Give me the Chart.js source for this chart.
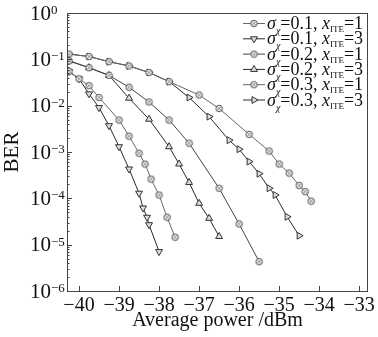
<!DOCTYPE html>
<html><head><meta charset="utf-8">
<script src="https://cdn.jsdelivr.net/npm/chart.js@4/dist/chart.umd.min.js"></script>
<style>html,body{margin:0;padding:0;background:#fff}#wrap{width:378px;height:337px}</style>
</head><body><div id="wrap"><canvas id="c" width="378" height="337"></canvas></div>
<script>
// ---- data ----
const xTicks = [-40,-39,-38,-37,-36,-35,-34,-33];
const yExponents = [0,-1,-2,-3,-4,-5,-6];
const sigmaVals = ['0.1','0.1','0.2','0.2','0.3','0.3'];
const iteVals = ['1','3','1','3','1','3'];

const s01x1_x = [-40.25,-40,-39.75,-39.5,-39.0,-38.75,-38.5,-38.35,-38.2,-38.0,-37.8,-37.6];
const s01x1_y = [0.055,0.038,0.027,0.015,0.0049,0.0022,9.4e-4,5.5e-4,2.6e-4,1.18e-4,3.9e-5,1.45e-5];
const s01x3_x = [-40.25,-40,-39.75,-39.5,-39.25,-39.0,-38.75,-38.5,-38.4,-38.3,-38.25,-38.0];
const s01x3_y = [0.055,0.038,0.018,0.0091,0.0037,0.0013,4.3e-4,1.29e-4,6.2e-5,3.9e-5,2.7e-5,7.1e-6];
const s02x1_x = [-40.25,-39.75,-39.25,-38.75,-38.25,-37.75,-37.25,-36.5,-36.0,-35.5];
const s02x1_y = [0.093,0.066,0.045,0.025,0.012,0.0049,0.00155,1.65e-4,2.8e-5,4.3e-6];
const s02x3_x = [-40.25,-39.75,-39.25,-38.75,-38.25,-37.75,-37.5,-37.25,-37.0,-36.75,-36.5];
const s02x3_y = [0.093,0.066,0.045,0.0145,0.0051,0.0013,5.5e-4,2.2e-4,7.8e-5,3.7e-5,1.5e-5];
const s03x1_x = [-40.25,-39.75,-39.25,-38.75,-38.25,-37.75,-37.0,-36.5,-35.75,-35.25,-35.0,-34.75,-34.5,-34.35,-34.2];
const s03x1_y = [0.13,0.115,0.089,0.072,0.052,0.033,0.017,0.0087,0.0024,0.00105,5.5e-4,3.5e-4,1.9e-4,1.4e-4,8.7e-5];
const s03x3_x = [-40.25,-39.75,-39.25,-38.75,-38.25,-37.75,-37.25,-36.75,-36.25,-36.0,-35.75,-35.5,-35.25,-35.1,-34.8,-34.5];
const s03x3_y = [0.13,0.115,0.089,0.072,0.052,0.033,0.015,0.0058,0.0018,0.00115,6.2e-4,3.4e-4,1.65e-4,1.18e-4,4e-5,1.56e-5];

// ---- styling ----
const SERIF = '"Liberation Serif","DejaVu Serif",serif';
function circleImg(){
  const c=document.createElement('canvas'); c.width=c.height=9;
  const g=c.getContext('2d');
  g.fillStyle='#f4f4f4'; g.strokeStyle='#444'; g.lineWidth=1;
  g.beginPath(); g.arc(4.5,4.5,3.2,0,Math.PI*2); g.fill(); g.stroke();
  g.lineWidth=0.7; g.beginPath(); g.moveTo(3.2,3.2); g.lineTo(5.8,5.8); g.moveTo(5.8,3.2); g.lineTo(3.2,5.8); g.stroke();
  return c;
}
const circ = circleImg();
const pts = (xs, ys) => xs.map((x,i)=>({x:x,y:ys[i]}));
function ds(xs, ys, style, rot, lineCol){
  return {data: pts(xs,ys), borderColor: lineCol, borderWidth: 1, pointStyle: style, rotation: rot,
    pointRadius: style==='triangle'?4:4.5, pointBorderColor:'#333', pointBackgroundColor:'#ddd', pointBorderWidth:1,
    showLine:true, tension:0, fill:false};
}
const datasets = [
  ds(s01x1_x, s01x1_y, circ, 0, '#666'),
  ds(s01x3_x, s01x3_y, 'triangle', 180, '#2a2a2a'),
  ds(s02x1_x, s02x1_y, circ, 0, '#444'),
  ds(s02x3_x, s02x3_y, 'triangle', 0, '#2a2a2a'),
  ds(s03x1_x, s03x1_y, circ, 0, '#666'),
  ds(s03x3_x, s03x3_y, 'triangle', 90, '#2a2a2a'),
];

const deco = {
  id:'deco',
  afterDraw(chart){
    const ctx=chart.ctx, a=chart.chartArea, xs=chart.scales.x, ys=chart.scales.y;
    ctx.save();
    ctx.strokeStyle='#444'; ctx.lineWidth=1;
    ctx.strokeRect(Math.round(a.left)+0.5, Math.round(a.top)+0.5, Math.round(a.right-a.left)-1, Math.round(a.bottom-a.top));
    ctx.beginPath();
    xTicks.forEach(v=>{ const x=Math.round(xs.getPixelForValue(v))+0.5; ctx.moveTo(x,a.bottom); ctx.lineTo(x,a.bottom-5); });
    yExponents.forEach(e=>{ const y=Math.round(ys.getPixelForValue(Math.pow(10,e)))+0.5; ctx.moveTo(a.left,y); ctx.lineTo(a.left+5,y);
      if(e<0){ for(let m=2;m<=9;m++){ const yy=Math.round(ys.getPixelForValue(m*Math.pow(10,e)))+0.5; ctx.moveTo(a.left,yy); ctx.lineTo(a.left+2.5,yy);} } });
    ctx.stroke();
    // y tick labels 10^e
    ctx.fillStyle='#111';
    yExponents.forEach(e=>{
      const y=ys.getPixelForValue(Math.pow(10,e));
      ctx.font='21px '+SERIF; ctx.textBaseline='middle'; ctx.textAlign='left';
      ctx.fillText('10', 30, y+1);
      const w=ctx.measureText('10').width;
      ctx.font='13px '+SERIF; ctx.textBaseline='alphabetic';
      ctx.fillText(e===0?'0':'\u2212'+Math.abs(e), 30+w, y+1);
    });
    // legend
    for(let i=0;i<6;i++){
      const cy=23.5+15.3*i;
      const d=chart.data.datasets[i];
      ctx.strokeStyle=d.borderColor; ctx.lineWidth=1;
      ctx.beginPath(); ctx.moveTo(243,cy); ctx.lineTo(265,cy); ctx.stroke();
      ctx.strokeStyle='#333'; ctx.fillStyle='#ddd';
      Chart.helpers.drawPoint(ctx,{pointStyle:d.pointStyle,rotation:d.rotation,radius:d.pointRadius,borderWidth:1},254,cy);
      // text
      ctx.fillStyle='#111';
      ctx.textBaseline='alphabetic'; ctx.textAlign='left';
      const base=cy+5.5;
      const parts=[
        {t:'\u03c3', f:'italic 18px '+SERIF},
        {t:'\u03c7', f:'italic 10px '+SERIF, dy:5},
        {t:'=0.'+sigmaVals[i].slice(2)+', ', f:'18px '+SERIF},
        {t:'x', f:'italic 18px '+SERIF},
        {t:'ITE', f:'9px '+SERIF, dy:3},
        {t:'='+iteVals[i], f:'18px '+SERIF}
      ];
      let x=267;
      parts.forEach(p=>{ ctx.font=p.f; ctx.fillText(p.t,x,base+(p.dy||0)); x+=ctx.measureText(p.t).width; });
    }
    ctx.restore();
  }
};

Chart.defaults.font.family = SERIF;
new Chart(document.getElementById('c'), {
  type:'scatter',
  data:{datasets},
  options:{
    responsive:false, animation:false, devicePixelRatio:1,
    layout:{padding:{top:13,right:6,left:0,bottom:0}},
    plugins:{legend:{display:false}, tooltip:{enabled:false}},
    scales:{
      x:{type:'linear', min:-40.3, max:-32.78,
        grid:{display:false, drawTicks:false}, border:{display:false},
        ticks:{stepSize:1, includeBounds:false, autoSkip:false, maxRotation:0, padding:3, color:'#111',
          font:{size:20, family:SERIF}, callback:v=>Number.isInteger(v)?'\u2212'+Math.abs(v):''},
        title:{display:true, text:'Average power /dBm', color:'#111', font:{size:20, family:SERIF}, padding:{top:0,bottom:4}},
        afterFit:s=>{s.height=46;}
      },
      y:{type:'logarithmic', min:1e-6, max:1,
        grid:{display:false, drawTicks:false}, border:{display:false},
        ticks:{callback:()=>''},
        title:{display:true, text:'BER', color:'#111', font:{size:21, family:SERIF}, padding:{top:0,bottom:1}},
        afterFit:s=>{s.width=67;}
      }
    }
  },
  plugins:[deco]
});
</script>
</body></html>
